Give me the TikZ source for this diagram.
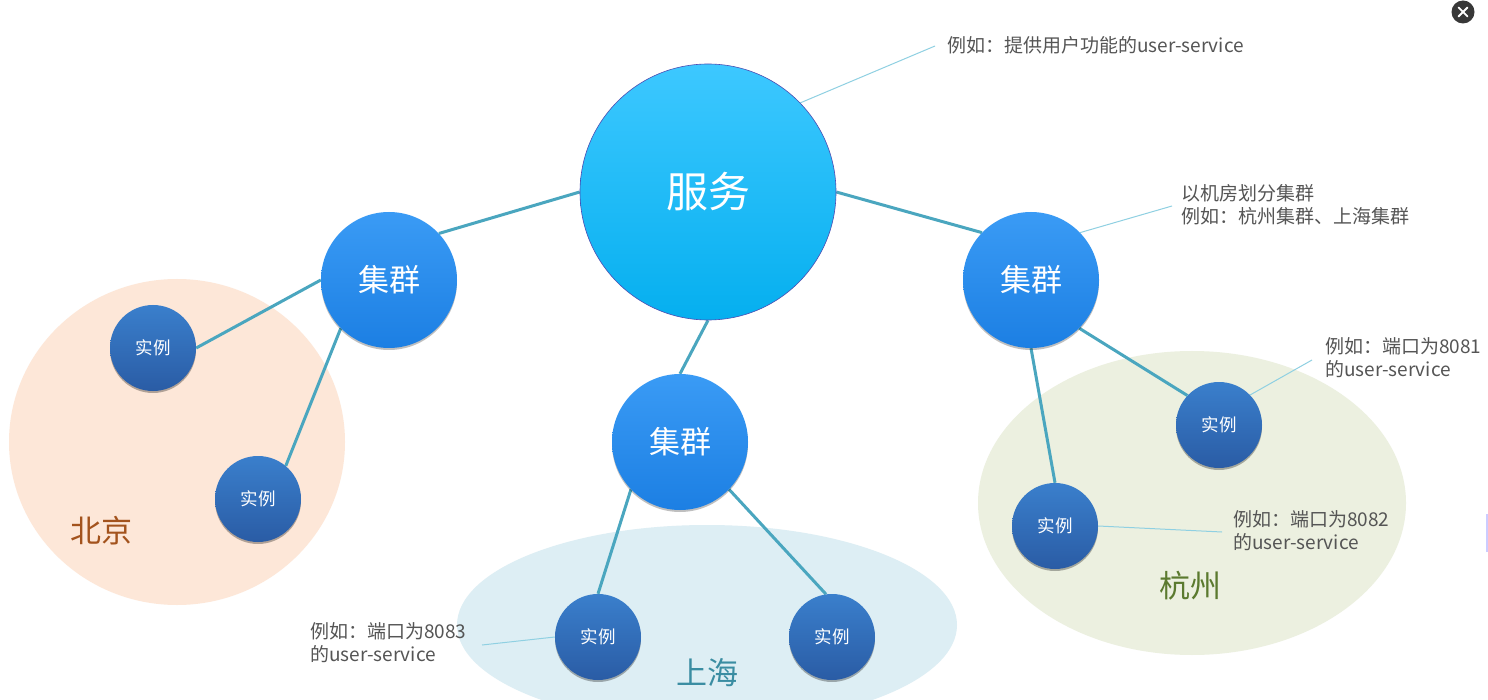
\documentclass[tikz,border=0pt]{standalone}
\usepackage{fontspec}
\setmainfont{Noto Sans CJK SC}
\usetikzlibrary{shadows}
\pgfdeclarelayer{regions}
\pgfdeclarelayer{lines}
\pgfsetlayers{regions,lines,main}
\definecolor{conncol}{HTML}{4AA6BF}
\definecolor{notecol}{HTML}{8FD0E2}
\definecolor{txtgray}{HTML}{555555}
\definecolor{bjfill}{HTML}{FDE7D8}
\definecolor{shfill}{HTML}{DDEEF4}
\definecolor{hzfill}{HTML}{ECF0E0}
\definecolor{bjtxt}{HTML}{A3531D}
\definecolor{shtxt}{HTML}{3A8DA2}
\definecolor{hztxt}{HTML}{5B7A2F}
\definecolor{HTMLsvcTop}{HTML}{3DC8FF}
\definecolor{HTMLsvcBot}{HTML}{05AFEF}
\definecolor{clTop}{HTML}{3A9BF5}
\definecolor{clBot}{HTML}{1C7FE3}
\definecolor{inTop}{HTML}{3A7FCC}
\definecolor{inBot}{HTML}{2A5CA5}
\tikzset{
  svcnode/.style={circle, minimum size=256pt, inner sep=0pt, draw=blue!40!gray, line width=0.6pt,
    top color=HTMLsvcTop, bottom color=HTMLsvcBot, text=white, font=\fontsize{42}{46}\selectfont},
  clnode/.style={circle, minimum size=136pt, inner sep=0pt,
    top color=clTop, bottom color=clBot, text=white, font=\fontsize{31}{34}\selectfont,
    drop shadow={shadow xshift=0pt, shadow yshift=-2pt, opacity=0.25, fill=black}},
  instnode/.style={circle, minimum size=86pt, inner sep=0pt,
    top color=inTop, bottom color=inBot, text=white, font=\fontsize{17.5}{20}\selectfont,
    drop shadow={shadow xshift=0pt, shadow yshift=-2pt, opacity=0.3, fill=black}},
  conn/.style={draw=conncol, line width=3pt},
  noteline/.style={draw=notecol, line width=1pt},
  note/.style={anchor=west, inner sep=0pt, align=left, text=txtgray, font=\fontsize{19}{23}\selectfont},
  regionlabel/.style={inner sep=0pt, font=\fontsize{31}{34}\selectfont},
}
\begin{document}
\begin{tikzpicture}[x=1pt, y=-1pt]
\useasboundingbox (0,0) rectangle (1488,700);
% regions
\begin{pgfonlayer}{regions}
\fill[white] (0,0) rectangle (1488,700);
\fill[bjfill] (177,442) ellipse [x radius=168pt, y radius=163pt];
\fill[shfill] (707,625) ellipse [x radius=250pt, y radius=100pt];
\fill[hzfill] (1192,503) ellipse [x radius=214pt, y radius=152pt];
\end{pgfonlayer}
\node[regionlabel, text=bjtxt] (bj) at (101,531) {北京};
\node[regionlabel, text=shtxt] (sh) at (707,673) {上海};
\node[regionlabel, text=hztxt] (hz) at (1190,586) {杭州};
% nodes
\node[svcnode] (svc) at (708,192) {服务};
\node[clnode] (c1) at (389,280) {集群};
\node[clnode] (c2) at (680,442) {集群};
\node[clnode] (c3) at (1031,280) {集群};
\node[instnode] (i1) at (153,348) {实例};
\node[instnode] (i2) at (258,499) {实例};
\node[instnode] (i3) at (598,637) {实例};
\node[instnode] (i4) at (832,637) {实例};
\node[instnode] (i5) at (1219,425) {实例};
\node[instnode] (i6) at (1055,526) {实例};
% connectors
\begin{pgfonlayer}{lines}
\draw[conn] (svc.west) -- (c1.43);
\draw[conn] (svc.east) -- (c3.136);
\draw[conn] (svc.south) -- (c2.north);
\draw[conn] (c1.west) -- (i1.east);
\draw[conn] (c1.225) -- (i2.50);
\draw[conn] (c2.224) -- (i3.north);
\draw[conn] (c2.-44) -- (i4.98);
\draw[conn] (c3.-45) -- (i5.137);
\draw[conn] (c3.south) -- (i6.north);
% annotation lines
\coordinate (n1) at (935,46);
\coordinate (n2) at (1172,206);
\coordinate (n3) at (1312,360);
\coordinate (n4) at (1222,532);
\coordinate (n5) at (482,645);
\draw[noteline] (svc.44) -- (n1);
\draw[noteline] (c3.44) -- (n2);
\draw[noteline] (i5.44) -- (n3);
\draw[noteline] (i6.east) -- (n4);
\draw[noteline] (i3.west) -- (n5);
\end{pgfonlayer}
% notes
\node[note] (t1) at (947,45) {例如：提供用户功能的user-service};
\node[note] (t2) at (1181,205) {以机房划分集群\\例如：杭州集群、上海集群};
\node[note] (t3) at (1325,358) {例如：端口为8081\\的user-service};
\node[note] (t4) at (1233,531) {例如：端口为8082\\的user-service};
\node[note] (t5) at (310,643) {例如：端口为8083\\的user-service};
% close button
\node[circle, fill=black!78, minimum size=23pt, inner sep=0pt] (close) at (1463,12) {};
\draw[white, line width=1.8pt, line cap=round] ([shift={(-4.5pt,-4.5pt)}]close.center) -- ([shift={(4.5pt,4.5pt)}]close.center);
\draw[white, line width=1.8pt, line cap=round] ([shift={(-4.5pt,4.5pt)}]close.center) -- ([shift={(4.5pt,-4.5pt)}]close.center);
\fill[blue!20] (1486,514) rectangle (1488,552);
\end{tikzpicture}
\end{document}
